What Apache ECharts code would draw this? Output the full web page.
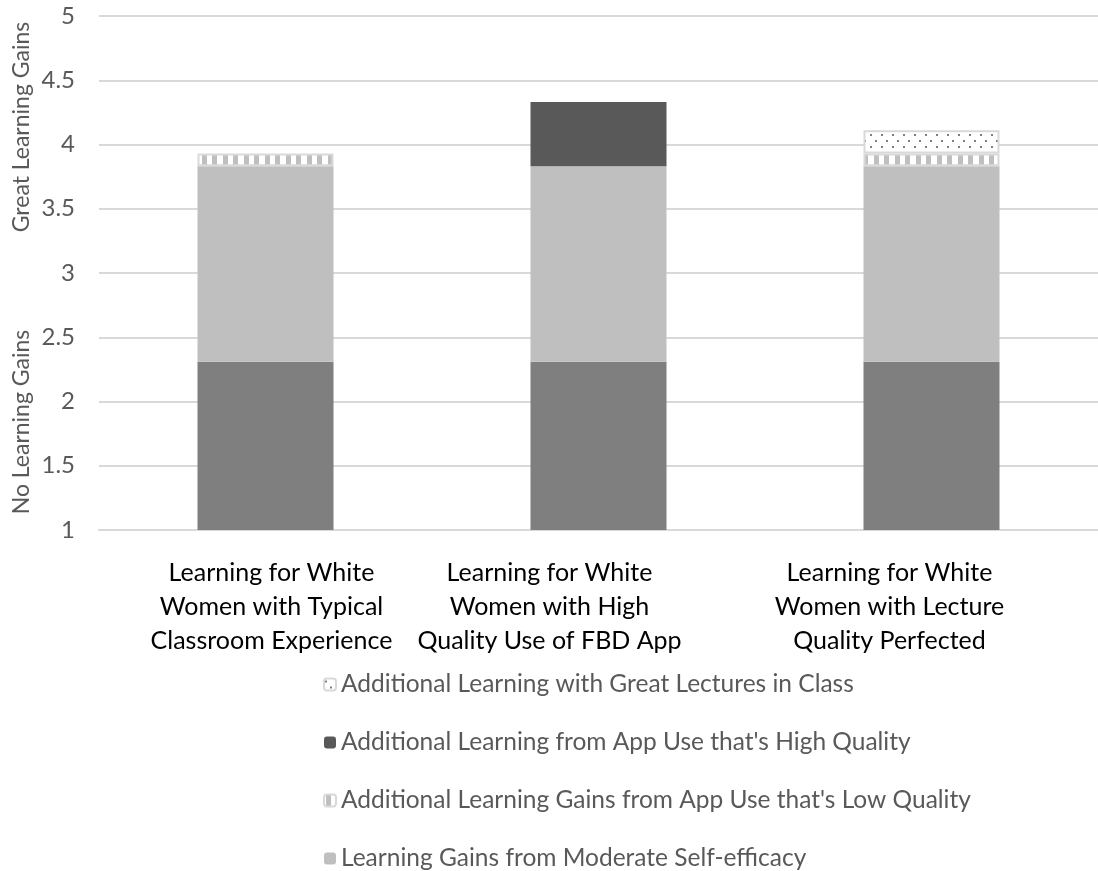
<!DOCTYPE html>
<html>
<head>
<meta charset="utf-8">
<script src="https://cdn.jsdelivr.net/npm/echarts@6/dist/echarts.min.js"></script>
<style>
  html, body { margin: 0; padding: 0; background: #fff; }
  #chart { width: 1098px; height: 871px; }
</style>
</head>
<body>
<div id="chart"></div>
<script>
// 类目（横轴）
const categories = [
  'Learning for White\nWomen with Typical\nClassroom Experience',
  'Learning for White\nWomen with High\nQuality Use of FBD App',
  'Learning for White\nWomen with Lecture\nQuality Perfected'
]
// 各层数据（自下而上堆叠）
const baseValues = [2.31, 2.31, 2.31]
const moderateValues = [1.52, 1.52, 1.52]
const lowQualityValues = [0.10, null, 0.10]
const highQualityValues = [null, 0.50, null]
const greatLectureValues = [null, null, 0.18]
// 图例名称
const seriesNames = [
  'Additional Learning with Great Lectures in Class',
  "Additional Learning from App Use that's High Quality",
  "Additional Learning Gains from App Use that's Low Quality",
  'Learning Gains from Moderate Self-efficacy'
]
// 纵轴刻度
const yMin = 1
const yMax = 5
const yStep = 0.5
// 纵轴两段说明
const yTitles = ['Great Learning Gains', 'No Learning Gains']

const FONT = 'Lato'

// 竖条纹图案
function stripePattern() {
  const c = document.createElement('canvas')
  c.width = 21
  c.height = 4
  const ctx = c.getContext('2d')
  ctx.fillStyle = '#ffffff'
  ctx.fillRect(0, 0, 21, 4)
  ctx.fillStyle = '#bfbfbf'
  ctx.fillRect(2, 0, 5, 4)
  ctx.fillRect(13, 0, 5, 4)
  return { image: c, repeat: 'repeat' }
}
// 点状图案
function dotPattern() {
  const c = document.createElement('canvas')
  c.width = 11
  c.height = 12
  const ctx = c.getContext('2d')
  ctx.fillStyle = '#ffffff'
  ctx.fillRect(0, 0, 11, 12)
  ctx.fillStyle = '#7f7f7f'
  ctx.fillRect(1, 2, 2, 2)
  ctx.fillRect(6, 8, 2, 2)
  return { image: c, repeat: 'repeat' }
}

// 标签偏移（参考图中标签并未正对柱子）
const labelPad = [[0, 0, 0, 12], [0, 98, 0, 0], [0, 84, 0, 0]]
const rich = {}
labelPad.forEach((p, i) => {
  rich['c' + i] = { padding: p, fontFamily: FONT, fontSize: 25, lineHeight: 34, color: '#000' }
})

const chart = echarts.init(document.getElementById('chart'))
const barCommon = { type: 'bar', stack: 'total', barWidth: 136, clip: true }

chart.setOption({
  animation: false,
  grid: { left: 99, top: 16, width: 1008, height: 514 },
  legend: {
    orient: 'vertical',
    left: 323,
    top: 672,
    padding: 0,
    itemWidth: 12,
    itemHeight: 12,
    itemGap: 33,
    data: seriesNames,
    textStyle: { fontFamily: FONT, fontSize: 24.5, lineHeight: 24, color: '#595959' }
  },
  xAxis: {
    type: 'category',
    data: categories,
    axisLine: { lineStyle: { color: '#d9d9d9', width: 2 } },
    axisTick: { show: false },
    axisLabel: {
      interval: 0,
      margin: 26,
      formatter: (val, idx) => val.split('\n').map(l => '{c' + idx + '|' + l + '}').join('\n'),
      rich: rich
    }
  },
  yAxis: {
    type: 'value',
    min: yMin,
    max: yMax,
    interval: yStep,
    axisLine: { show: false },
    axisTick: { show: false },
    splitLine: { lineStyle: { color: '#d9d9d9', width: 2 } },
    axisLabel: { margin: 24, fontFamily: FONT, fontSize: 24, color: '#595959' }
  },
  graphic: [
    {
      type: 'text', x: 22, y: 127, rotation: Math.PI / 2,
      style: { text: yTitles[0], fontFamily: FONT, fontSize: 23, fill: '#595959', align: 'center', verticalAlign: 'middle' }
    },
    {
      type: 'text', x: 22, y: 422, rotation: Math.PI / 2,
      style: { text: yTitles[1], fontFamily: FONT, fontSize: 23, fill: '#595959', align: 'center', verticalAlign: 'middle' }
    }
  ],
  series: [
    Object.assign({}, barCommon, {
      name: 'Baseline',
      data: baseValues,
      itemStyle: { color: '#7f7f7f' }
    }),
    Object.assign({}, barCommon, {
      name: seriesNames[3],
      data: moderateValues,
      itemStyle: { color: '#bfbfbf' }
    }),
    Object.assign({}, barCommon, {
      name: seriesNames[2],
      data: lowQualityValues,
      itemStyle: { color: stripePattern(), borderColor: '#d9d9d9', borderWidth: 2 }
    }),
    Object.assign({}, barCommon, {
      name: seriesNames[1],
      data: highQualityValues,
      itemStyle: { color: '#595959' }
    }),
    Object.assign({}, barCommon, {
      name: seriesNames[0],
      data: greatLectureValues,
      itemStyle: { color: dotPattern(), borderColor: '#d9d9d9', borderWidth: 2 }
    })
  ]
})
</script>
</body>
</html>
